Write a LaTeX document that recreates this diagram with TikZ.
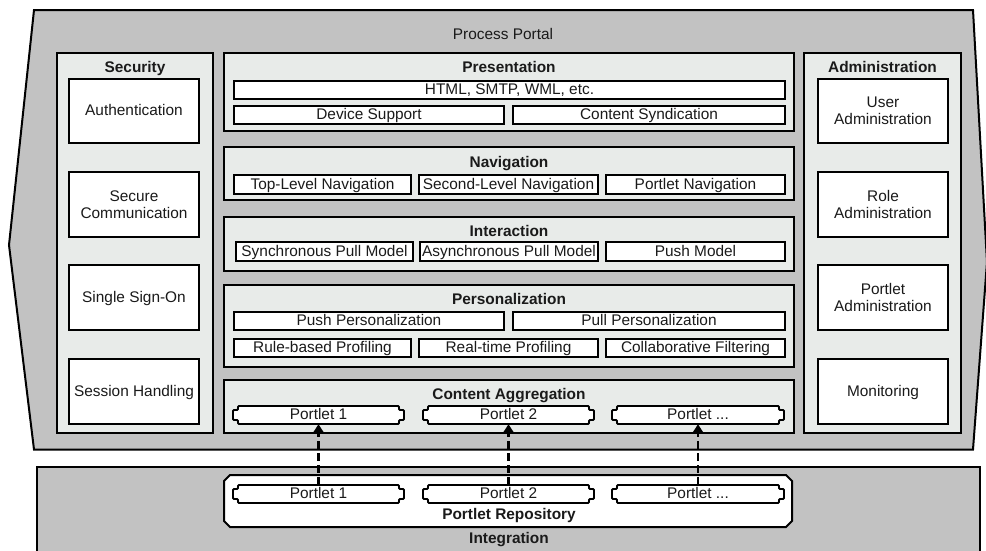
\documentclass[tikz,border=0pt]{standalone}
\usepackage{fontspec}
\setmainfont{Liberation Sans}
\usetikzlibrary{arrows.meta,calc}

\definecolor{portalgray}{HTML}{C2C2C2}
\definecolor{panelfill}{HTML}{E8EBE9}
\definecolor{ink}{HTML}{1A1A1A}

% rectangle node from its corner coordinates: style, name, x0, y0, x1, y1, text
\newcommand\bx[7]{\node[#1, minimum width={(#5-#3)*1pt}, minimum height={(#6-#4)*1pt}] (#2) at ({(#3+#5)/2},{(#4+#6)/2}) {#7};}
% outline of a portlet: body with a tab on each end
\newcommand\tabframe[4]{%
  \draw[tabline] (#1+5,#2) -- (#3-5,#2) -- (#3-5,#2+4) -- (#3,#2+4) -- (#3,#4-4) -- (#3-5,#4-4) -- (#3-5,#4)
    -- (#1+5,#4) -- (#1+5,#4-4) -- (#1,#4-4) -- (#1,#2+4) -- (#1+5,#2+4) -- cycle;}

\tikzset{
  every node/.style={text=ink, font=\fontsize{15.4}{17}\selectfont},
  oneline/.style={text height=11pt, text depth=1.5pt},
  portal/.style={draw=black, line width=2pt, fill=portalgray, line join=miter},
  panel/.style={draw=black, line width=2pt, fill=panelfill, inner sep=0pt},
  twoline/.style={draw=black, line width=1.8pt, fill=white, inner sep=0pt, align=center},
  subbox/.style={twoline, oneline},
  heading/.style={font=\fontsize{15.4}{17}\selectfont\bfseries, inner sep=0pt, oneline},
  plain/.style={inner sep=0pt, oneline},
  tabline/.style={draw=black, line width=1.8pt, fill=white, rounded corners=1pt},
  portlet/.style={inner sep=0pt, oneline},
  dep/.style={line width=2.6pt, dash pattern=on 8pt off 4pt, -{Triangle[length=9pt,width=11pt]}},
}

\begin{document}
\begin{tikzpicture}[x=1pt, y=-1pt]
\useasboundingbox (0,0) rectangle (986,550);
\fill[white] (0,0) rectangle (986,550);

% Process Portal frame
\draw[portal] (34,10) -- (973,10) -- (987,262) -- (973,449.5) -- (34,449.5) -- (9,245) -- cycle;
\node[plain] (portaltitle) at (503,35) {Process Portal};

% Integration layer
\draw[portal] (37,467) rectangle (980,560);

% Security column
\bx{panel}{security}{57}{53}{213}{433}{}
\node[heading] (securitytitle) at (135,68) {Security};
\bx{subbox}{auth}{69}{79}{199}{143}{Authentication}
\bx{twoline}{securecomm}{69}{172}{199}{237}{Secure\\Communication}
\bx{subbox}{sso}{69}{265}{199}{330}{Single Sign-On}
\bx{subbox}{session}{69}{359}{199}{424}{Session Handling}

% Administration column
\bx{panel}{admin}{804}{53}{961}{433}{}
\node[heading] (admintitle) at (882.5,68) {Administration};
\bx{twoline}{useradmin}{818}{79}{948}{143}{User\\Administration}
\bx{twoline}{roleadmin}{818}{172}{948}{237}{Role\\Administration}
\bx{twoline}{portletadmin}{818}{265}{948}{330}{Portlet\\Administration}
\bx{subbox}{monitoring}{818}{359}{948}{424}{Monitoring}

% Presentation
\bx{panel}{presentation}{224}{53}{794}{131}{}
\node[heading] (presentationtitle) at (509,68) {Presentation};
\bx{subbox}{markup}{234}{81}{785}{99}{HTML, SMTP, WML, etc.}
\bx{subbox}{device}{234}{106}{504}{124}{Device Support}
\bx{subbox}{syndication}{513}{106}{785}{124}{Content Syndication}

% Navigation
\bx{panel}{navigation}{224}{147}{794}{200}{}
\node[heading] (navigationtitle) at (509,163) {Navigation};
\bx{subbox}{topnav}{234}{175}{411}{194}{Top-Level Navigation}
\bx{subbox}{secondnav}{419}{175}{598}{194}{Second-Level Navigation}
\bx{subbox}{portletnav}{606}{175}{785}{194}{Portlet Navigation}

% Interaction
\bx{panel}{interaction}{224}{217}{794}{271}{}
\node[heading] (interactiontitle) at (509,232) {Interaction};
\bx{subbox}{syncpull}{236}{242}{413}{261}{Synchronous Pull Model}
\bx{subbox}{asyncpull}{420}{242}{598}{261}{Asynchronous Pull Model}
\bx{subbox}{pushmodel}{606}{242}{785}{261}{Push Model}

% Personalization
\bx{panel}{personalization}{224}{285}{794}{367}{}
\node[heading] (personalizationtitle) at (509,300) {Personalization};
\bx{subbox}{pushpers}{234}{312}{504}{330}{Push Personalization}
\bx{subbox}{pullpers}{513}{312}{785}{330}{Pull Personalization}
\bx{subbox}{rulebased}{234}{339}{411}{357}{Rule-based Profiling}
\bx{subbox}{realtime}{419}{339}{598}{357}{Real-time Profiling}
\bx{subbox}{collab}{606}{339}{785}{357}{Collaborative Filtering}

% Content Aggregation
\bx{panel}{aggregation}{224}{380}{794}{433}{}
\node[heading] (aggregationtitle) at (509,395) {Content Aggregation};
\tabframe{233}{406}{404}{424}
\tabframe{423}{406}{594}{424}
\tabframe{612}{406}{784}{424}
\bx{portlet}{ca1}{233}{406}{404}{424}{Portlet 1}
\bx{portlet}{ca2}{423}{406}{594}{424}{Portlet 2}
\bx{portlet}{ca3}{612}{406}{784}{424}{Portlet ...}

% Portlet Repository
\draw[line width=2pt, fill=white] (230,475) -- (786,475) -- (792,481) -- (792,521) -- (786,527)
  -- (230,527) -- (224,521) -- (224,481) -- cycle;
\tabframe{233}{485}{404}{503}
\tabframe{423}{485}{594}{503}
\tabframe{612}{485}{784}{503}
\bx{portlet}{rp1}{233}{485}{404}{503}{Portlet 1}
\bx{portlet}{rp2}{423}{485}{594}{503}{Portlet 2}
\bx{portlet}{rp3}{612}{485}{784}{503}{Portlet ...}
\node[heading] (repositorytitle) at (509,515) {Portlet Repository};
\node[heading] (integrationtitle) at (509,539) {Integration};

% deployment of portlets from the repository
\draw[dep] (rp1.north) -- (ca1.south);
\draw[dep] (rp2.north) -- (ca2.south);
\draw[dep] (rp3.north) -- (ca3.south);
\end{tikzpicture}
\end{document}
